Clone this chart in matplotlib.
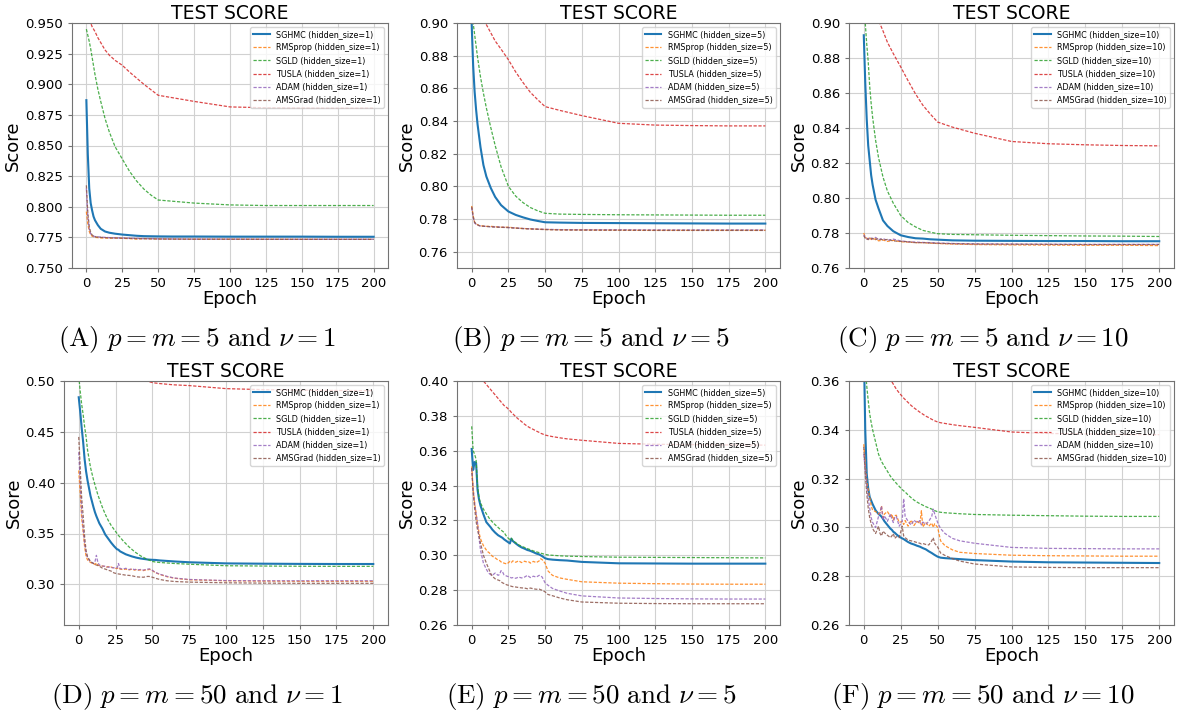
#Test score curves of six optimizers, six settings (2x3 panels)

import matplotlib
matplotlib.use("Agg")
import matplotlib.pyplot as plt

plt.rcParams['mathtext.fontset'] = 'cm'

#Epochs where the curves were read
ep_top = [0, 1, 2, 3, 4, 5, 6, 8, 10, 13, 16, 20, 25, 30, 35, 40, 45, 50, 60, 75, 100, 125, 150, 175, 200]
ep_bot = [0, 1, 2, 3, 4, 5, 6, 8, 10, 11, 12, 13, 14, 16, 18, 19, 20, 21, 22, 24, 26, 27, 28, 30, 32, 34, 36,
          38, 39, 40, 42, 44, 46, 47, 48, 50, 52, 55, 60, 65, 75, 100, 125, 150, 175, 200]

methods = ["SGHMC", "RMSprop", "SGLD", "TUSLA", "ADAM", "AMSGrad"]
hidden = [1, 5, 10, 1, 5, 10]
captions = [r"$\mathrm{(A)}\ p = m = 5\ \mathrm{and}\ \nu = 1$",
            r"$\mathrm{(B)}\ p = m = 5\ \mathrm{and}\ \nu = 5$",
            r"$\mathrm{(C)}\ p = m = 5\ \mathrm{and}\ \nu = 10$",
            r"$\mathrm{(D)}\ p = m = 50\ \mathrm{and}\ \nu = 1$",
            r"$\mathrm{(E)}\ p = m = 50\ \mathrm{and}\ \nu = 5$",
            r"$\mathrm{(F)}\ p = m = 50\ \mathrm{and}\ \nu = 10$"]
ylims = [(0.75, 0.95), (0.75, 0.90), (0.76, 0.90), (0.26, 0.50), (0.26, 0.40), (0.26, 0.36)]
yticks = [[0.75, 0.775, 0.80, 0.825, 0.85, 0.875, 0.90, 0.925, 0.95],
          [0.76, 0.78, 0.80, 0.82, 0.84, 0.86, 0.88, 0.90],
          [0.76, 0.78, 0.80, 0.82, 0.84, 0.86, 0.88, 0.90],
          [0.30, 0.35, 0.40, 0.45, 0.50],
          [0.26, 0.28, 0.30, 0.32, 0.34, 0.36, 0.38, 0.40],
          [0.26, 0.28, 0.30, 0.32, 0.34, 0.36]]
ytick_fmt = ["%.3f", "%.2f", "%.2f", "%.2f", "%.2f", "%.2f"]

# (A) p=m=5, nu=1
a_sghmc = [0.887, 0.843, 0.815, 0.803, 0.797, 0.792, 0.789, 0.785, 0.782, 0.7798, 0.7788, 0.778, 0.7773, 0.7768, 0.7763, 0.776, 0.7759, 0.7758, 0.7757, 0.7757, 0.7756, 0.7756, 0.7756, 0.7755, 0.7755]
a_rmsprop = [0.796, 0.786, 0.780, 0.777, 0.776, 0.7755, 0.775, 0.7748, 0.7745, 0.7745, 0.7743, 0.7745, 0.7742, 0.774, 0.7736, 0.774, 0.7738, 0.7737, 0.7736, 0.7735, 0.7735, 0.7735, 0.7734, 0.7734, 0.7734]
a_sgld = [0.945, 0.940, 0.935, 0.929, 0.922, 0.915, 0.908, 0.896, 0.886, 0.872, 0.861, 0.849, 0.839, 0.829, 0.821, 0.8145, 0.8095, 0.8055, 0.8045, 0.803, 0.8015, 0.801, 0.801, 0.801, 0.801]
a_tusla = [0.956, 0.954, 0.952, 0.950, 0.947, 0.945, 0.943, 0.938, 0.934, 0.928, 0.9237, 0.9195, 0.9155, 0.910, 0.905, 0.900, 0.8955, 0.891, 0.889, 0.886, 0.8815, 0.8808, 0.8806, 0.8805, 0.8805]
a_adam = [0.815, 0.792, 0.782, 0.778, 0.7765, 0.776, 0.7757, 0.7755, 0.7752, 0.775, 0.7748, 0.7746, 0.7745, 0.7743, 0.7742, 0.774, 0.774, 0.7738, 0.7737, 0.7736, 0.7736, 0.7735, 0.7735, 0.7735, 0.7735]
a_amsgrad = [0.8175, 0.795, 0.784, 0.779, 0.777, 0.776, 0.7755, 0.7752, 0.775, 0.7748, 0.7746, 0.7745, 0.7744, 0.7742, 0.774, 0.7739, 0.7738, 0.7737, 0.7736, 0.7735, 0.7735, 0.7734, 0.7734, 0.7734, 0.7734]

# (B) p=m=5, nu=5
b_sghmc = [0.899, 0.874, 0.858, 0.847, 0.838, 0.831, 0.824, 0.813, 0.806, 0.799, 0.7935, 0.7885, 0.7846, 0.7825, 0.781, 0.7797, 0.7788, 0.778, 0.7778, 0.7776, 0.7775, 0.7774, 0.7773, 0.7772, 0.7772]
b_rmsprop = [0.788, 0.782, 0.778, 0.777, 0.7765, 0.776, 0.7758, 0.7757, 0.7755, 0.7755, 0.7753, 0.775, 0.775, 0.7745, 0.7742, 0.774, 0.7738, 0.7736, 0.7734, 0.7733, 0.7732, 0.7731, 0.7731, 0.7731, 0.7731]
b_sgld = [0.91, 0.90, 0.893, 0.886, 0.879, 0.873, 0.867, 0.857, 0.848, 0.836, 0.825, 0.812, 0.80, 0.794, 0.790, 0.787, 0.785, 0.7835, 0.783, 0.7828, 0.7826, 0.7825, 0.7824, 0.7823, 0.7823]
b_tusla = [0.915, 0.914, 0.912, 0.911, 0.909, 0.907, 0.906, 0.9025, 0.899, 0.894, 0.889, 0.884, 0.8775, 0.870, 0.8635, 0.8575, 0.853, 0.8488, 0.8465, 0.8433, 0.8386, 0.8375, 0.8372, 0.837, 0.837]
b_adam = [0.787, 0.781, 0.7775, 0.7768, 0.7762, 0.776, 0.7757, 0.7755, 0.7755, 0.7752, 0.7752, 0.775, 0.7748, 0.7745, 0.7742, 0.774, 0.7738, 0.7737, 0.7735, 0.7734, 0.7734, 0.7733, 0.7733, 0.7733, 0.7733]
b_amsgrad = [0.7875, 0.7815, 0.778, 0.777, 0.7765, 0.776, 0.7757, 0.7756, 0.7754, 0.7753, 0.775, 0.7749, 0.7747, 0.7744, 0.7741, 0.7739, 0.7737, 0.7735, 0.7733, 0.7732, 0.7731, 0.773, 0.773, 0.773, 0.773]

# (C) p=m=5, nu=10
c_sghmc = [0.893, 0.866, 0.845, 0.83, 0.8215, 0.813, 0.8075, 0.799, 0.794, 0.7872, 0.784, 0.781, 0.7787, 0.7777, 0.777, 0.7768, 0.7764, 0.7762, 0.7758, 0.7756, 0.7755, 0.7754, 0.7754, 0.7753, 0.7753]
c_rmsprop = [0.780, 0.7775, 0.777, 0.7765, 0.7772, 0.7765, 0.776, 0.7768, 0.7755, 0.776, 0.7752, 0.7758, 0.775, 0.7748, 0.7745, 0.7745, 0.7742, 0.774, 0.7737, 0.7734, 0.7732, 0.7731, 0.773, 0.773, 0.7728]
c_sgld = [0.915, 0.90, 0.888, 0.878, 0.864, 0.854, 0.846, 0.833, 0.823, 0.812, 0.804, 0.797, 0.79, 0.786, 0.7835, 0.7815, 0.7805, 0.7796, 0.7792, 0.779, 0.7787, 0.7785, 0.7783, 0.7782, 0.778]
c_tusla = [0.92, 0.918, 0.9165, 0.915, 0.913, 0.911, 0.909, 0.9045, 0.9015, 0.8955, 0.889, 0.8825, 0.8749, 0.867, 0.8595, 0.853, 0.848, 0.8434, 0.8405, 0.837, 0.8323, 0.831, 0.8304, 0.83, 0.8298]
c_adam = [0.779, 0.7775, 0.7765, 0.777, 0.7768, 0.7772, 0.7765, 0.7775, 0.7762, 0.7768, 0.7758, 0.7765, 0.7755, 0.775, 0.7748, 0.7746, 0.7745, 0.7743, 0.774, 0.7738, 0.7737, 0.7736, 0.7735, 0.7735, 0.7735]
c_amsgrad = [0.7785, 0.777, 0.7768, 0.7762, 0.777, 0.7765, 0.777, 0.7762, 0.7768, 0.776, 0.7763, 0.7755, 0.7752, 0.775, 0.7745, 0.7745, 0.7743, 0.7741, 0.7739, 0.7737, 0.7736, 0.7735, 0.7734, 0.7734, 0.7734]

# (D) p=m=50, nu=1
d_sghmc = [0.484, 0.470, 0.454, 0.440, 0.423, 0.411, 0.402, 0.387, 0.376, 0.371, 0.367, 0.3635, 0.36, 0.355, 0.349, 0.347, 0.345, 0.343, 0.341, 0.3375,
           0.3345, 0.334, 0.3325, 0.331, 0.3295, 0.3285, 0.3275, 0.3267, 0.3263, 0.326, 0.3254, 0.325, 0.3246, 0.3244, 0.3243, 0.3241, 0.324, 0.3235, 0.323, 0.3225,
           0.3217, 0.3206, 0.3203, 0.3201, 0.32, 0.32]
d_rmsprop = [0.412, 0.39, 0.365, 0.352, 0.337, 0.3275, 0.324, 0.3215, 0.3205, 0.3195, 0.321, 0.319, 0.3185, 0.318, 0.3175, 0.317, 0.3175, 0.3165, 0.317, 0.316,
             0.3155, 0.3165, 0.315, 0.3145, 0.315, 0.3142, 0.3148, 0.314, 0.3145, 0.3138, 0.3142, 0.3135, 0.3145, 0.3143, 0.3148, 0.3135, 0.3115, 0.3098, 0.3075, 0.306,
             0.3045, 0.3035, 0.3032, 0.303, 0.303, 0.303]
d_sgld = [0.505, 0.49, 0.477, 0.467, 0.455, 0.445, 0.432, 0.415, 0.403, 0.398, 0.393, 0.388, 0.384, 0.376, 0.369, 0.366, 0.363, 0.3605, 0.358, 0.354,
          0.35, 0.348, 0.3465, 0.343, 0.34, 0.337, 0.3345, 0.332, 0.331, 0.33, 0.328, 0.3265, 0.325, 0.3243, 0.3237, 0.3225, 0.322, 0.3215, 0.321, 0.3205,
          0.3198, 0.3183, 0.318, 0.3178, 0.3177, 0.3177]
d_tusla = [0.56, 0.555, 0.551, 0.547, 0.544, 0.541, 0.538, 0.533, 0.528, 0.526, 0.524, 0.522, 0.52, 0.517, 0.514, 0.5125, 0.511, 0.51, 0.509, 0.507,
           0.5055, 0.505, 0.5045, 0.5035, 0.5028, 0.5022, 0.5017, 0.5012, 0.501, 0.5008, 0.5005, 0.5002, 0.5, 0.4997, 0.4992, 0.4985, 0.498, 0.4975, 0.4968, 0.4962,
           0.4955, 0.4925, 0.4915, 0.491, 0.4907, 0.4905]
d_adam = [0.43, 0.40, 0.372, 0.355, 0.34, 0.331, 0.326, 0.322, 0.3205, 0.322, 0.3285, 0.3215, 0.319, 0.318, 0.3178, 0.3172, 0.3168, 0.317, 0.3165, 0.3162,
          0.316, 0.3205, 0.3155, 0.315, 0.3158, 0.3145, 0.3152, 0.3145, 0.3148, 0.3142, 0.3146, 0.314, 0.3148, 0.315, 0.3152, 0.3138, 0.3118, 0.31, 0.3078, 0.3062,
          0.3048, 0.3037, 0.3035, 0.3035, 0.3035, 0.3035]
d_amsgrad = [0.445, 0.415, 0.385, 0.368, 0.347, 0.333, 0.327, 0.3225, 0.3205, 0.3195, 0.319, 0.3185, 0.3178, 0.316, 0.315, 0.3145, 0.3138, 0.3135, 0.313, 0.3112,
             0.3105, 0.3102, 0.31, 0.3095, 0.309, 0.3088, 0.3085, 0.3078, 0.3075, 0.3073, 0.3071, 0.307, 0.3076, 0.3078, 0.3077, 0.307, 0.306, 0.3048, 0.3035, 0.3028,
             0.3022, 0.3015, 0.3012, 0.301, 0.301, 0.301]

# (E) p=m=50, nu=5
e_sghmc = [0.361, 0.349, 0.3535, 0.353, 0.3375, 0.332, 0.3285, 0.3235, 0.319, 0.318, 0.317, 0.316, 0.3148, 0.313, 0.3115, 0.311, 0.3105, 0.31, 0.3092, 0.308,
           0.3068, 0.3095, 0.3082, 0.3068, 0.3055, 0.3045, 0.3038, 0.303, 0.3028, 0.3025, 0.3018, 0.301, 0.3005, 0.3, 0.2995, 0.2983, 0.2978, 0.2975, 0.2972, 0.297,
           0.2962, 0.2954, 0.2953, 0.2952, 0.2952, 0.2952]
e_rmsprop = [0.351, 0.338, 0.33, 0.324, 0.318, 0.313, 0.3095, 0.3055, 0.303, 0.302, 0.3014, 0.3005, 0.2995, 0.2985, 0.2972, 0.297, 0.2962, 0.296, 0.2955, 0.295,
             0.2965, 0.2958, 0.2968, 0.296, 0.2968, 0.2958, 0.2966, 0.296, 0.2962, 0.2955, 0.2965, 0.2958, 0.2968, 0.298, 0.2975, 0.2955, 0.291, 0.2885, 0.287, 0.2862,
             0.2848, 0.284, 0.2837, 0.2835, 0.2834, 0.2834]
e_sgld = [0.374, 0.36, 0.358, 0.355, 0.34, 0.333, 0.33, 0.3265, 0.3238, 0.3225, 0.3212, 0.3202, 0.3192, 0.3175, 0.316, 0.3152, 0.3145, 0.3138, 0.3132, 0.3105,
          0.309, 0.3098, 0.3085, 0.3072, 0.306, 0.3052, 0.3045, 0.3038, 0.3035, 0.3032, 0.3025, 0.302, 0.3015, 0.3012, 0.301, 0.3005, 0.3002, 0.3, 0.2997, 0.2995,
          0.2993, 0.2989, 0.2988, 0.2987, 0.2986, 0.2985]
e_tusla = [0.412, 0.4105, 0.409, 0.4075, 0.406, 0.4045, 0.403, 0.4, 0.398, 0.397, 0.396, 0.395, 0.394, 0.392, 0.39, 0.389, 0.388, 0.387, 0.386, 0.3847,
           0.383, 0.382, 0.3812, 0.3795, 0.378, 0.3767, 0.3752, 0.374, 0.3735, 0.373, 0.3722, 0.3713, 0.3705, 0.37, 0.3697, 0.369, 0.3686, 0.3681, 0.3674, 0.3668,
           0.366, 0.3642, 0.3637, 0.3635, 0.3633, 0.3632]
e_adam = [0.35, 0.338, 0.33, 0.324, 0.3185, 0.31, 0.303, 0.2955, 0.292, 0.2905, 0.2895, 0.2888, 0.2885, 0.2898, 0.2885, 0.289, 0.2912, 0.2905, 0.2888, 0.288,
          0.2875, 0.287, 0.2872, 0.2868, 0.2875, 0.287, 0.2875, 0.2885, 0.2878, 0.2872, 0.288, 0.2875, 0.2885, 0.2882, 0.2875, 0.2842, 0.2828, 0.281, 0.2795, 0.2782,
          0.2767, 0.2755, 0.2752, 0.275, 0.2749, 0.2749]
e_amsgrad = [0.35, 0.336, 0.327, 0.3195, 0.3145, 0.3109, 0.307, 0.3, 0.2955, 0.2935, 0.2915, 0.2895, 0.288, 0.2865, 0.2858, 0.2855, 0.2848, 0.2842, 0.2838, 0.283,
             0.2826, 0.2822, 0.282, 0.2818, 0.2815, 0.2813, 0.2812, 0.2808, 0.281, 0.2812, 0.2808, 0.2805, 0.2806, 0.2802, 0.28, 0.279, 0.2775, 0.2768, 0.2755, 0.2745,
             0.2732, 0.2725, 0.2723, 0.2722, 0.2722, 0.2722]

# (F) p=m=50, nu=10
f_sghmc = [0.375, 0.34, 0.322, 0.316, 0.3125, 0.311, 0.3095, 0.307, 0.3055, 0.305, 0.3044, 0.3035, 0.3025, 0.301, 0.2995, 0.299, 0.2982, 0.2978, 0.2972, 0.2962,
           0.2955, 0.2952, 0.2948, 0.294, 0.2934, 0.293, 0.2925, 0.2921, 0.2918, 0.2915, 0.291, 0.2902, 0.2895, 0.2891, 0.2887, 0.288, 0.2876, 0.2874, 0.2872, 0.287,
           0.2866, 0.286, 0.2857, 0.2856, 0.2855, 0.2854]
f_rmsprop = [0.3341, 0.326, 0.319, 0.3155, 0.3125, 0.309, 0.307, 0.3065, 0.3055, 0.306, 0.3088, 0.304, 0.3055, 0.3065, 0.3045, 0.3055, 0.303, 0.3048, 0.305, 0.302,
             0.3025, 0.3012, 0.3028, 0.3005, 0.303, 0.3008, 0.3025, 0.3015, 0.3068, 0.3002, 0.302, 0.3005, 0.3018, 0.3, 0.3015, 0.3, 0.2945, 0.2925, 0.2908, 0.2898,
             0.2893, 0.2886, 0.2884, 0.2883, 0.2882, 0.2882]
f_sgld = [0.38, 0.366, 0.358, 0.352, 0.3466, 0.343, 0.34, 0.335, 0.33, 0.3285, 0.327, 0.326, 0.325, 0.323, 0.321, 0.3202, 0.3195, 0.3188, 0.3181, 0.3168,
          0.3155, 0.315, 0.3145, 0.3133, 0.3122, 0.3112, 0.3104, 0.3097, 0.3094, 0.3091, 0.3085, 0.308, 0.3075, 0.3072, 0.3069, 0.3064, 0.3062, 0.306, 0.3058, 0.3056,
          0.3053, 0.305, 0.3048, 0.3046, 0.3045, 0.3045]
f_tusla = [0.385, 0.383, 0.382, 0.38, 0.379, 0.377, 0.376, 0.373, 0.3705, 0.369, 0.368, 0.3668, 0.3655, 0.363, 0.3608, 0.3597, 0.3587, 0.3577, 0.3567, 0.3551,
           0.3537, 0.353, 0.3524, 0.3512, 0.35, 0.349, 0.3481, 0.3472, 0.3468, 0.3464, 0.3456, 0.345, 0.3443, 0.344, 0.3437, 0.3432, 0.3429, 0.3426, 0.3421, 0.3417,
           0.341, 0.3391, 0.3385, 0.3383, 0.3381, 0.338]
f_adam = [0.33, 0.324, 0.317, 0.312, 0.308, 0.304, 0.302, 0.3, 0.3045, 0.306, 0.3088, 0.303, 0.3048, 0.3025, 0.3055, 0.3035, 0.302, 0.3042, 0.3045, 0.3005,
          0.3025, 0.3118, 0.3045, 0.3025, 0.301, 0.303, 0.3018, 0.3028, 0.301, 0.3022, 0.3012, 0.3025, 0.3045, 0.3075, 0.3055, 0.302, 0.2995, 0.2975, 0.2955, 0.2945,
          0.2935, 0.2918, 0.2914, 0.2913, 0.2912, 0.2912]
f_amsgrad = [0.333, 0.322, 0.314, 0.308, 0.304, 0.3015, 0.2995, 0.2975, 0.3005, 0.2975, 0.2965, 0.2985, 0.2978, 0.2968, 0.2958, 0.2965, 0.2975, 0.2955, 0.2962, 0.2958,
             0.3005, 0.2965, 0.2958, 0.2948, 0.2945, 0.2942, 0.2938, 0.2935, 0.2932, 0.2934, 0.293, 0.2928, 0.2945, 0.2958, 0.2935, 0.292, 0.2895, 0.2885, 0.2872, 0.2862,
             0.285, 0.2838, 0.2836, 0.2835, 0.2835, 0.2835]

series = [
    (ep_top, [a_sghmc, a_rmsprop, a_sgld, a_tusla, a_adam, a_amsgrad]),
    (ep_top, [b_sghmc, b_rmsprop, b_sgld, b_tusla, b_adam, b_amsgrad]),
    (ep_top, [c_sghmc, c_rmsprop, c_sgld, c_tusla, c_adam, c_amsgrad]),
    (ep_bot, [d_sghmc, d_rmsprop, d_sgld, d_tusla, d_adam, d_amsgrad]),
    (ep_bot, [e_sghmc, e_rmsprop, e_sgld, e_tusla, e_adam, e_amsgrad]),
    (ep_bot, [f_sghmc, f_rmsprop, f_sgld, f_tusla, f_adam, f_amsgrad]),
]

#Axes boxes in pixels (left, top, right, bottom) of a 1182x718 figure
W, H = 1182, 718
boxes = [(72, 23, 388, 268), (457, 23, 780, 268), (849, 23, 1174, 268),
         (64, 381, 388, 625), (457, 381, 780, 625), (849, 381, 1174, 625)]
cap_pos = [(197, 340), (591, 340), (983, 340), (197, 697), (591, 697), (983, 697)]
colors = ["C0", "C1", "C2", "C3", "C4", "C5"]

fig = plt.figure(figsize=(W / 100, H / 100), dpi=100)

for i in range(6):
    l, t, r, b = boxes[i]
    ax = fig.add_axes([l / W, 1 - b / H, (r - l) / W, (b - t) / H])
    ep, curves = series[i]
    for k, vals in enumerate(curves):
        lab = "%s (hidden_size=%d)" % (methods[k], hidden[i])
        if k == 0:
            ax.plot(ep, vals, color=colors[k], lw=1.5, label=lab)
        else:
            ax.plot(ep, vals, color=colors[k], lw=0.9, ls=(0, (2.6, 1.3)), alpha=0.85, label=lab)
    ax.set_ylim(*ylims[i])
    ax.set_yticks(yticks[i])
    ax.set_yticklabels([ytick_fmt[i] % v for v in yticks[i]])
    ax.set_xticks([0, 25, 50, 75, 100, 125, 150, 175, 200])
    ax.tick_params(labelsize=9.5, color="0.45", length=3)
    ax.grid(True, color="0.82", lw=0.8)
    for s in ax.spines.values():
        s.set_color("0.45")
    ax.set_title("TEST SCORE", fontsize=13.5, pad=3)
    ax.set_xlabel("Epoch", fontsize=13, labelpad=0)
    ax.set_ylabel("Score", fontsize=13, labelpad=2)
    ax.legend(loc="upper right", fontsize=5.8, framealpha=0.8)
    cx, cy = cap_pos[i]
    fig.text(cx / W, 1 - cy / H, captions[i], ha="center", va="center", fontsize=19.5)

fig.savefig("out.png", dpi=100)
